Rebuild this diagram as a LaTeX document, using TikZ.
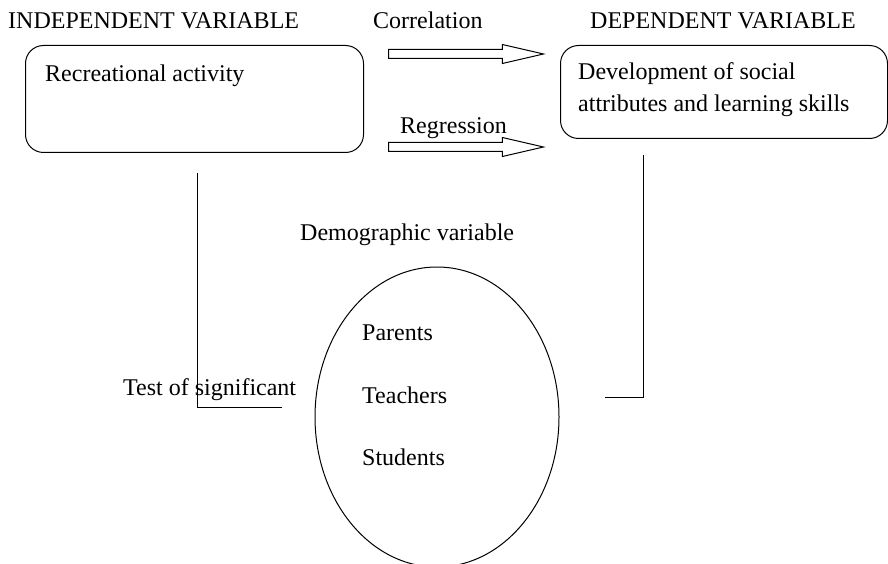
\documentclass[tikz,border=0pt]{standalone}
\usepackage{fontspec}
\setmainfont{Liberation Serif}
\usetikzlibrary{shapes.arrows,shapes.geometric}

\begin{document}
\begin{tikzpicture}[x=1pt,y=-1pt,
	every node/.style={font=\fontsize{24}{28}\selectfont},
	txt/.style={anchor=base west, inner sep=0pt},
	varbox/.style={draw, line width=1pt, rounded corners=18pt, anchor=north west, inner sep=0pt},
	hollowarrow/.style={draw, single arrow, single arrow head extend=5pt, single arrow tip angle=26,
		minimum height=155pt, inner xsep=0pt, inner ysep=4pt, line width=1pt}]
	\useasboundingbox (0,0) rectangle (888,564);

	% headings
	\node[txt] (indeptitle) at (8,29) {INDEPENDENT VARIABLE};
	\node[txt] (corrlabel) at (373,29) {Correlation};
	\node[txt] (deptitle) at (590,29) {DEPENDENT VARIABLE};

	% the two variable boxes
	\node[varbox, minimum width=338pt, minimum height=107pt] (indep) at (25,45) {};
	\node[txt] (recreation) at (45,82) {Recreational activity};
	\node[varbox, minimum width=327pt, minimum height=93pt] (dep) at (560,45) {};
	\node[txt] (development) at (578,80) {Development of social};
	\node[txt] (attributes) at (578,112) {attributes and learning skills};

	% correlation and regression arrows
	\node[hollowarrow, anchor=west] (corrarrow) at (388,54) {};
	\node[txt] (regrlabel) at (400,134) {Regression};
	\node[hollowarrow, anchor=west] (regrarrow) at (388,147) {};

	% demographic variable
	\node[txt] (demolabel) at (300,240) {Demographic variable};
	\node[draw, ellipse, line width=1pt, minimum width=244pt, minimum height=300pt] (demo) at (437,417) {};
	\node[txt] (parents) at (362,340) {Parents};
	\node[txt] (teachers) at (362,403) {Teachers};
	\node[txt] (students) at (362,465) {Students};

	% test of significant
	\node[txt] (testlabel) at (123,395) {Test of significant};
	\coordinate (lefttop) at (197,173);
	\coordinate (leftend) at (282,407);
	\draw[line width=1pt] (lefttop) |- (leftend);
	\coordinate (righttop) at (643,155);
	\coordinate (rightend) at (605,397);
	\draw[line width=1pt] (righttop) |- (rightend);
\end{tikzpicture}
\end{document}
